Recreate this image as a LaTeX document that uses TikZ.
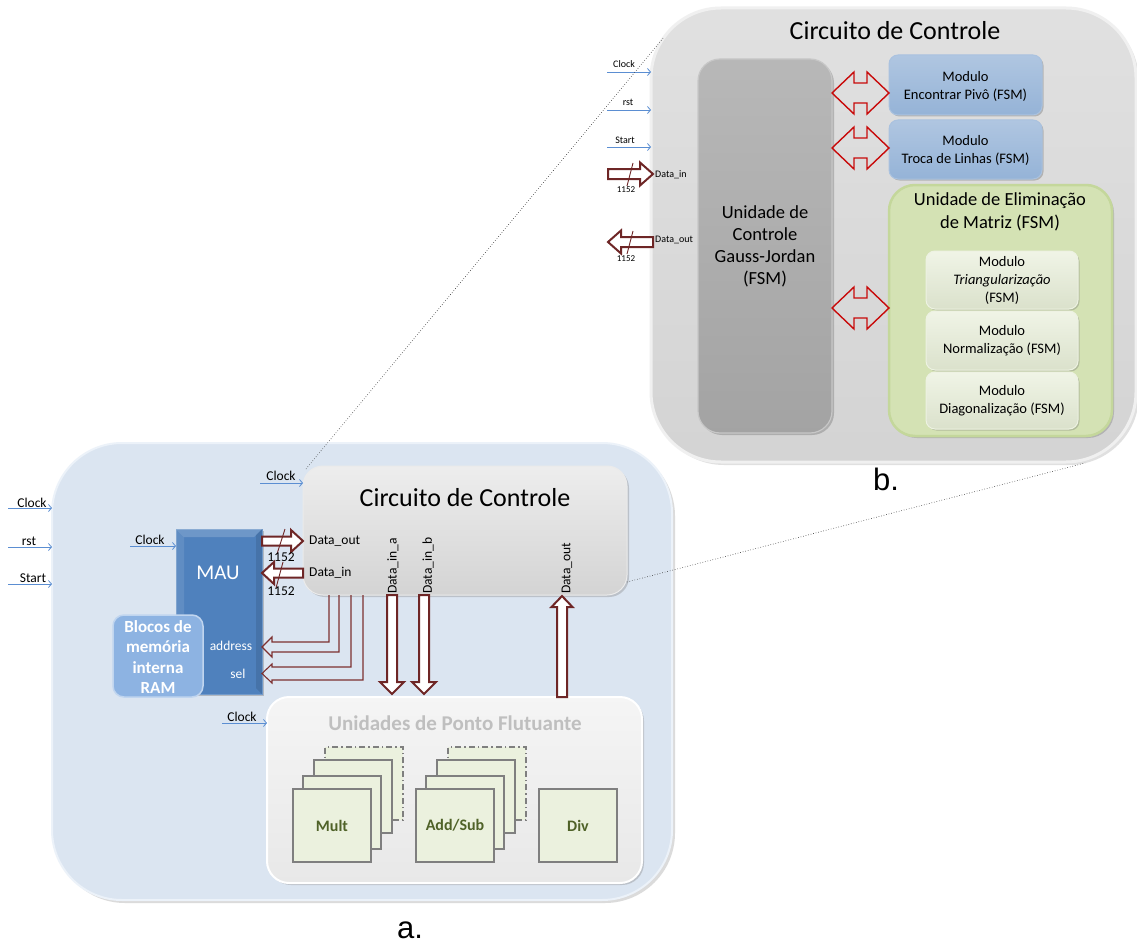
\documentclass[tikz,border=0pt]{standalone}
\usepackage{fontspec}
\setmainfont{Carlito}
\newfontfamily\labelfont{Liberation Sans}
\usetikzlibrary{arrows.meta,calc,shadows}

\definecolor{sigblue}{RGB}{91,142,210}
\definecolor{fatred}{RGB}{110,38,38}
\definecolor{bentred}{RGB}{125,48,48}
\definecolor{dblred}{RGB}{200,10,10}
\definecolor{panelAfill}{RGB}{219,229,241}
\definecolor{panelArim}{RGB}{236,242,249}
\definecolor{modblue}{RGB}{149,179,215}
\definecolor{unitgreen}{RGB}{212,226,180}
\definecolor{unitrim}{RGB}{196,215,155}
\definecolor{subgreen}{RGB}{230,237,214}
\definecolor{maublue}{RGB}{79,129,189}
\definecolor{ramblue}{RGB}{141,179,226}
\definecolor{fputitle}{RGB}{191,191,191}
\definecolor{opfill}{RGB}{235,241,222}
\definecolor{opdraw}{RGB}{127,127,127}
\definecolor{optext}{RGB}{79,98,40}

\tikzset{
  box/.style={anchor=north west, inner sep=0pt, outer sep=0pt},
  panelA/.style={box, rounded corners=70pt, fill=panelAfill, draw=panelArim, line width=2pt,
    drop shadow={shadow xshift=3pt, shadow yshift=-3pt, opacity=0.35, fill=black!40}},
  panelB/.style={box, rounded corners=70pt, top color=black!12, bottom color=black!17,
    draw=black!6, line width=3pt,
    drop shadow={shadow xshift=3pt, shadow yshift=-3pt, opacity=0.3, fill=black!40}},
  ccbox/.style={box, rounded corners=20pt, top color=black!7, bottom color=black!17,
    draw=black!8, line width=1pt,
    drop shadow={shadow xshift=2pt, shadow yshift=-2pt, opacity=0.35, fill=black!50}},
  gjbox/.style={box, rounded corners=22pt, top color=black!28, bottom color=black!36,
    draw=black!22, line width=1.2pt,
    drop shadow={shadow xshift=2pt, shadow yshift=-2pt, opacity=0.35, fill=black!60}},
  modbox/.style={box, rounded corners=9pt, top color=modblue!75!white, bottom color=modblue,
    draw=modblue!80!white, line width=1pt,
    drop shadow={shadow xshift=1.5pt, shadow yshift=-1.5pt, opacity=0.35, fill=black!60}},
  unitbox/.style={box, rounded corners=26pt, fill=unitgreen, draw=unitrim, line width=2.5pt,
    drop shadow={shadow xshift=2pt, shadow yshift=-2pt, opacity=0.3, fill=black!60}},
  subbox/.style={box, rounded corners=9pt, top color=subgreen!60!white, bottom color=subgreen!95!black,
    draw=subgreen!70!white, line width=1pt,
    drop shadow={shadow xshift=1.5pt, shadow yshift=-1.5pt, opacity=0.3, fill=black!60}},
  maubox/.style={box, fill=maublue, draw=maublue!80!white, line width=1pt,
    drop shadow={shadow xshift=2pt, shadow yshift=-2pt, opacity=0.35, fill=black!60}},
  rambox/.style={box, rounded corners=11pt, fill=ramblue, draw=ramblue!55!white, line width=1.5pt},
  fpubox/.style={box, rounded corners=22pt, top color=black!4, bottom color=black!9,
    draw=white, line width=2pt,
    drop shadow={shadow xshift=2pt, shadow yshift=-2pt, opacity=0.35, fill=black!50}},
  opbox/.style={box, fill=opfill, draw=opdraw, line width=1.5pt, minimum width=78pt, minimum height=73pt},
  optxt/.style={font=\fontsize{16}{18}\bfseries\selectfont, text=optext},
  sig/.style={draw=sigblue, line width=0.8pt, -{Straight Barb[length=3pt,width=7pt]}},
  sigA/.style={font=\fontsize{13.5}{15}\selectfont, inner sep=0pt},
  sigB/.style={font=\fontsize{10}{11}\selectfont, inner sep=0pt},
  fat/.style={draw=fatred, line width=2pt, fill=white, line join=miter},
  bent/.style={draw=bentred, line width=1.1pt, line join=miter},
  dbl/.style={draw=dblred, line width=1.4pt, line join=miter},
  zoomline/.style={draw=black!80, dotted, line width=0.6pt},
  slash/.style={draw=fatred, line width=0.9pt}
}

% horizontal outline arrow: tail, tip, signed head length, shaft half width, head half width
\newcommand\fatH[5]{%
  \draw[fat] ($(#1)+(0,#4)$) -- ($(#2)+({-1*(#3)},#4)$) -- ($(#2)+({-1*(#3)},#5)$) -- (#2)
    -- ($(#2)+({-1*(#3)},{-1*(#5)})$) -- ($(#2)+({-1*(#3)},{-1*(#4)})$) -- ($(#1)+(0,{-1*(#4)})$) -- cycle;}
% vertical outline arrow (y grows downwards)
\newcommand\fatV[5]{%
  \draw[fat] ($(#1)+(#4,0)$) -- ($(#2)+(#4,{-1*(#3)})$) -- ($(#2)+(#5,{-1*(#3)})$) -- (#2)
    -- ($(#2)+({-1*(#5)},{-1*(#3)})$) -- ($(#2)+({-1*(#4)},{-1*(#3)})$) -- ($(#1)+({-1*(#4)},0)$) -- cycle;}
% double-headed outline arrow between two points on one row
\newcommand\dblH[2]{%
  \draw[dbl] (#1) -- ($(#1)+(22,-21)$) -- ($(#1)+(22,-10)$) -- ($(#2)+(-22,-10)$) -- ($(#2)+(-22,-21)$)
    -- (#2) -- ($(#2)+(-22,21)$) -- ($(#2)+(-22,10)$) -- ($(#1)+(22,10)$) -- ($(#1)+(22,21)$) -- cycle;}

\begin{document}
\begin{tikzpicture}[x=1pt,y=-1pt]
\useasboundingbox (0,0) rectangle (1137,947);
\fill[white] (0,0) rectangle (1137,947);

% =================== panel b : control circuit detail ===================
\node[panelB, minimum width=485pt, minimum height=454pt] (pb) at (651,8) {};
\node[font=\fontsize{26}{30}\selectfont] (pbt) at (895,31) {Circuito de Controle};

\node[gjbox, minimum width=134pt, minimum height=374pt] (gj) at (698,59) {};
\node[align=center, font=\fontsize{18.5}{22}\selectfont] at (gj.center) {Unidade de\\Controle\\Gauss-Jordan\\(FSM)};

\node[modbox, minimum width=153pt, minimum height=60pt] (m1) at (889,55) {};
\node[align=center, font=\fontsize{14.5}{18}\selectfont] at ($(m1.center)+(0,1)$) {Modulo\\Encontrar Pivô (FSM)};
\node[modbox, minimum width=153pt, minimum height=59pt] (m2) at (889,120) {};
\node[align=center, font=\fontsize{14.5}{18}\selectfont] at ($(m2.center)+(0,1)$) {Modulo\\Troca de Linhas (FSM)};

\node[unitbox, minimum width=223pt, minimum height=251pt] (ue) at (889,185) {};
\node[align=center, font=\fontsize{18.5}{23}\selectfont] (uet) at (1000,212) {Unidade de Eliminação\\de Matriz (FSM)};
\node[subbox, minimum width=152pt, minimum height=58pt] (s1) at (926,251) {};
\node[align=center, font=\fontsize{14.5}{18}\selectfont] at (s1.center) {Modulo\\\textit{Triangularização}\\(FSM)};
\node[subbox, minimum width=152pt, minimum height=59pt] (s2) at (926,311) {};
\node[align=center, font=\fontsize{14.5}{18}\selectfont] at (s2.center) {Modulo\\Normalização (FSM)};
\node[subbox, minimum width=152pt, minimum height=57pt] (s3) at (926,372) {};
\node[align=center, font=\fontsize{14.5}{18}\selectfont] at (s3.center) {Modulo\\Diagonalização (FSM)};

% links between the Gauss-Jordan unit and its modules
\coordinate (r1a) at (gj.east |- 0,93);  \coordinate (r1b) at (m1.west |- 0,93);
\coordinate (r2a) at (gj.east |- 0,148); \coordinate (r2b) at (m2.west |- 0,148);
\coordinate (r3a) at (gj.east |- 0,308); \coordinate (r3b) at (ue.west |- 0,308);
\dblH{r1a}{r1b}
\dblH{r2a}{r2b}
\dblH{r3a}{r3b}

% inputs of panel b
\coordinate (bclk0) at (607,72);  \coordinate (bclk1) at (pb.west |- 0,72);
\coordinate (brst0) at (607,110); \coordinate (brst1) at (pb.west |- 0,110);
\coordinate (bst0) at (607,147);  \coordinate (bst1) at (pb.west |- 0,147);
\draw[sig] (bclk0) -- (bclk1);
\draw[sig] (brst0) -- (brst1);
\draw[sig] (bst0) -- (bst1);
\node[sigB] (lbclk) at (624,64) {Clock};
\node[sigB] (lbrst) at (628,102) {rst};
\node[sigB] (lbst) at (625,140) {Start};

\coordinate (bdi0) at (608,174); \coordinate (bdi1) at (653,174);
\fatH{bdi0}{bdi1}{13}{5}{11.5}
\draw[slash] (633,163) -- (627,186);
\node[sigB, font=\fontsize{9}{10}\selectfont] (lbdiw) at (626,190) {1152};
\node[sigB, anchor=west] (lbdi) at (655,175) {Data\_in};

\coordinate (bdo0) at (653,242); \coordinate (bdo1) at (608,242);
\fatH{bdo0}{bdo1}{-13}{5}{11.5}
\draw[slash] (633,231) -- (627,254);
\node[sigB, font=\fontsize{9}{10}\selectfont] (lbdow) at (626,259) {1152};
\node[sigB, anchor=west] (lbdo) at (655,240) {Data\_out};

\node[font=\labelfont\fontsize{31}{33}\selectfont, anchor=base] (lb) at (886,490) {b.};

% =================== panel a : complete system ===================
\node[panelA, minimum width=620pt, minimum height=457pt] (pa) at (52,443) {};

% control circuit
\node[ccbox, minimum width=324pt, minimum height=129pt] (cc) at (303,466) {};
\node[font=\fontsize{26}{30}\selectfont] (cct) at (465,498) {Circuito de Controle};
\node[sigA, anchor=west] (ccdo) at (309,541) {Data\_out};
\node[sigA, anchor=west] (ccdi) at (309,573) {Data\_in};
\node[sigA, rotate=90, anchor=west] (ccda) at (393,594) {Data\_in\_a};
\node[sigA, rotate=90, anchor=west] (ccdb) at (428,594) {Data\_in\_b};
\node[sigA, rotate=90, anchor=west] (ccdq) at (567,594) {Data\_out};

% MAU and internal RAM
\node[maubox, minimum width=86pt, minimum height=165pt] (mau) at (176,529) {};
\fill[white, opacity=0.18] (mau.north west) -- (mau.north east) -- ++(-8,8) -- ($(mau.north west)+(8,8)$) -- cycle;
\fill[white, opacity=0.10] (mau.north west) -- ($(mau.north west)+(8,8)$) -- ($(mau.south west)+(8,-8)$) -- (mau.south west) -- cycle;
\fill[black, opacity=0.10] (mau.north east) -- (mau.south east) -- ++(-6,-6) -- ($(mau.north east)+(-6,6)$) -- cycle;
\node[text=white, font=\fontsize{21}{24}\selectfont] (maut) at (218,573) {MAU};
\node[text=white, font=\fontsize{13.5}{15}\selectfont] (maua) at (231,646) {address};
\node[text=white, font=\fontsize{13.5}{15}\selectfont] (maus) at (238,674) {sel};
\node[rambox, minimum width=90pt, minimum height=82pt] (ram) at (113,615) {};
\node[align=center, text=white, font=\fontsize{17}{20.3}\bfseries\selectfont] at ($(ram.center)+(0,1)$) {Blocos de\\memória\\interna\\RAM};

% floating point units
\node[fpubox, minimum width=375pt, minimum height=186pt] (fpu) at (267,697) {};
\node[text=fputitle, font=\fontsize{21}{24}\bfseries\selectfont] (fput) at (455,723) {Unidades de Ponto Flutuante};

\node[opbox, draw=opdraw, dash pattern=on 6pt off 3pt on 1.5pt off 3pt] (mul4) at (325,747) {};
\node[opbox] (mul3) at (314,760) {};
\node[opbox] (mul2) at (303,776) {};
\node[opbox, optxt] (mul1) at (293,789) {Mult};
\node[opbox, draw=opdraw, dash pattern=on 6pt off 3pt on 1.5pt off 3pt] (add4) at (448,747) {};
\node[opbox] (add3) at (437,760) {};
\node[opbox] (add2) at (426,776) {};
\node[opbox, optxt] (add1) at (416,789) {Add/Sub};
\node[opbox, optxt] (div1) at (539,789) {Div};

% system inputs
\coordinate (aclk0) at (8,508);  \coordinate (aclk1) at (pa.west |- 0,508);
\coordinate (arst0) at (8,547);  \coordinate (arst1) at (pa.west |- 0,547);
\coordinate (ast0) at (8,584);   \coordinate (ast1) at (pa.west |- 0,584);
\draw[sig] (aclk0) -- (aclk1);
\draw[sig] (arst0) -- (arst1);
\draw[sig] (ast0) -- (ast1);
\node[sigA] (laclk) at (32,503) {Clock};
\node[sigA] (larst) at (29,541) {rst};
\node[sigA] (last) at (33,578) {Start};

% clocks of the inner blocks
\coordinate (cclk0) at (260,483); \coordinate (cclk1) at (cc.west |- 0,483);
\draw[sig] (cclk0) -- (cclk1);
\node[sigA] (lcclk) at (281,476) {Clock};
\coordinate (mclk0) at (130,546); \coordinate (mclk1) at (mau.west |- 0,546);
\draw[sig] (mclk0) -- (mclk1);
\node[sigA] (lmclk) at (150,540) {Clock};
\coordinate (fclk0) at (222,723); \coordinate (fclk1) at (fpu.west |- 0,723);
\draw[sig] (fclk0) -- (fclk1);
\node[sigA] (lfclk) at (242,717) {Clock};

% data buses between MAU and control circuit
\coordinate (ado0) at (mau.east |- 0,541); \coordinate (ado1) at (cc.west |- 0,541);
\fatH{ado0}{ado1}{12}{4.5}{11}
\coordinate (adi0) at (cc.west |- 0,573); \coordinate (adi1) at (mau.east |- 0,573);
\fatH{adi0}{adi1}{-12}{4.5}{11}
\draw[slash] (285,529) -- (277,554);
\draw[slash] (283,562) -- (276,588);
\node[sigA] (law1) at (281,557) {1152};
\node[sigA] (law2) at (281,591) {1152};

% address and sel buses (bent)
\coordinate (adr) at (mau.east |- 0,647);
\coordinate (sel) at (mau.east |- 0,673.5);
\coordinate (adrt1) at (329,0 |- cc.south); \coordinate (adrt2) at (339,0 |- cc.south);
\coordinate (selt1) at (351,0 |- cc.south); \coordinate (selt2) at (363,0 |- cc.south);
\draw[bent] (adrt1) -- (329,642) -- ($(adr)+(10,-5)$) -- ($(adr)+(10,-10)$) -- (adr)
  -- ($(adr)+(10,10)$) -- ($(adr)+(10,5)$) -- (339,652) -- (adrt2);
\draw[bent] (selt1) -- (351,667) -- ($(sel)+(10,-6.5)$) -- ($(sel)+(10,-9.5)$) -- (sel)
  -- ($(sel)+(10,9.5)$) -- ($(sel)+(10,6.5)$) -- (363,680) -- (selt2);

% operand and result buses between control circuit and FPU
\coordinate (dia0) at (392,0 |- cc.south); \coordinate (dia1) at (392,694);
\fatV{dia0}{dia1}{12}{5}{12}
\coordinate (dib0) at (424,0 |- cc.south); \coordinate (dib1) at (424,694);
\fatV{dib0}{dib1}{12}{5}{12}
\coordinate (dqo0) at (562,0 |- fpu.north); \coordinate (dqo1) at (562,596);
\fatV{dqo0}{dqo1}{-11}{5}{10.5}

\node[font=\labelfont\fontsize{31}{33}\selectfont, anchor=base] (la) at (410,938) {a.};

% ---------- zoom guide lines from the control circuit to its detail ----------
\coordinate (zA1) at (306,469);
\coordinate (zA2) at (664,37);
\coordinate (zB1) at (cc.east |- 0,582);
\coordinate (zB2) at (1085,463);
\draw[zoomline] (zA1) -- (zA2);
\draw[zoomline] (zB1) -- (zB2);
\end{tikzpicture}
\end{document}
